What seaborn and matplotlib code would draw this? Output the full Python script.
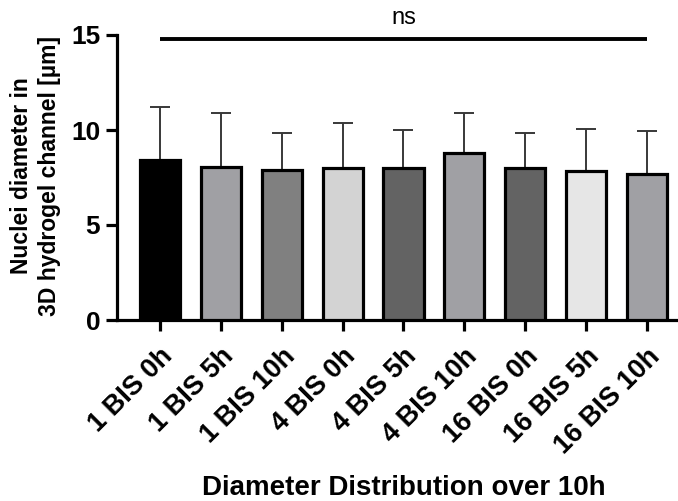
import matplotlib
matplotlib.use("Agg")
import matplotlib.pyplot as plt
import seaborn as sns
import numpy as np
import pandas as pd

categories = ["1 BIS 0h", "1 BIS 5h", "1 BIS 10h", "4 BIS 0h", "4 BIS 5h",
              "4 BIS 10h", "16 BIS 0h", "16 BIS 5h", "16 BIS 10h"]
means = [8.42, 8.07, 7.89, 8.02, 7.98, 8.77, 7.98, 7.84, 7.70]
sds = [2.77, 2.81, 1.93, 2.37, 2.02, 2.11, 1.84, 2.23, 2.25]
bar_colors = ["#000000", "#a0a0a4", "#808080", "#d3d3d3", "#636363",
              "#a0a0a4", "#636363", "#e6e6e6", "#a0a0a4"]
yticks = [0, 5, 10, 15]
sig_y = 14.8
sig_text = "ns"

sns.set_theme(style="ticks")
plt.rcParams["font.family"] = ["Liberation Sans", "DejaVu Sans"]
for k in ["text.color", "axes.labelcolor", "xtick.color", "ytick.color",
          "axes.edgecolor"]:
    plt.rcParams[k] = "black"

df = pd.DataFrame({"cat": categories, "mean": means})

fig = plt.figure(figsize=(6.78, 5.01), dpi=100)
ax = fig.add_axes([117/678, 1-320/501, 1-117/678, (320-35)/501])

sns.barplot(data=df, x="cat", y="mean", hue="cat", palette=bar_colors,
            legend=False, ax=ax, width=0.66, edgecolor="black",
            linewidth=2.3, errorbar=None, saturation=1, zorder=3)

x = np.arange(len(categories))
ax.errorbar(x, means, yerr=[np.zeros(len(sds)), sds], fmt="none",
            ecolor="#383838", elinewidth=1.4, capsize=7.5, capthick=1.4, zorder=2)

ax.plot([x[0], x[-1]], [sig_y, sig_y], color="black", lw=2.8,
        solid_capstyle="butt", clip_on=False, zorder=4)
ax.text((x[0] + x[-1]) / 2, sig_y + 0.5, sig_text, ha="center", va="bottom",
        fontsize=17, color="black")

ax.set_ylim(0, 15)
ax.set_xlim(-0.706, 8.51)
ax.set_yticks(yticks)
ax.set_yticklabels([str(t) for t in yticks], fontsize=19, fontweight="bold")
ax.set_xticks(x)
ax.set_xticklabels(categories, rotation=45, ha="right", rotation_mode="anchor",
                   fontsize=19.5, fontweight="bold")

for s in ["top", "right"]:
    ax.spines[s].set_visible(False)
for s in ["left", "bottom"]:
    ax.spines[s].set_linewidth(2.3)
    ax.spines[s].set_color("black")
ax.tick_params(axis="both", width=2.3, length=8, color="black", pad=4)
ax.tick_params(axis="x", pad=9)

ax.set_ylabel("Nuclei diameter in\n3D hydrogel channel [µm]", fontsize=16.5,
              fontweight="bold", linespacing=1.25)
ax.yaxis.set_label_coords(-0.10, 0.505)
ax.set_xlabel("Diameter Distribution over 10h", fontsize=20, fontweight="bold")
ax.xaxis.set_label_coords((403.5 - 117) / 561, -0.545)

fig.savefig("out.png", dpi=100)
